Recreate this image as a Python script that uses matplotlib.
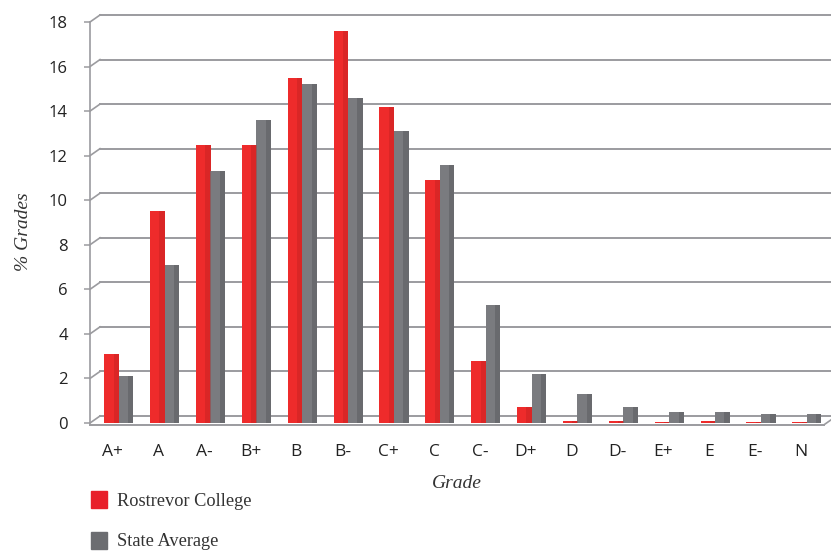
import matplotlib
matplotlib.use("Agg")
import matplotlib.pyplot as plt
import matplotlib.transforms as mtransforms
from matplotlib.patches import Rectangle
import numpy as np

grades = ["A+", "A", "A-", "B+", "B", "B-", "C+", "C", "C-", "D+", "D", "D-", "E+", "E", "E-", "N"]
rostrevor = [3.1, 9.5, 12.5, 12.5, 15.5, 17.6, 14.2, 10.9, 2.8, 0.7, 0.1, 0.1, 0.05, 0.1, 0.05, 0.05]
state_avg = [2.1, 7.1, 11.3, 13.6, 15.2, 14.6, 13.1, 11.6, 5.3, 2.2, 1.3, 0.7, 0.5, 0.5, 0.4, 0.4]
yticks = [0, 2, 4, 6, 8, 10, 12, 14, 16, 18]
series_names = ["Rostrevor College", "State Average"]

W, H = 831, 552
fig = plt.figure(figsize=(W / 100, H / 100), dpi=100)
ax = fig.add_axes([90 / W, 129 / H, 734 / W, 401 / H])

x = np.arange(len(grades))
bw = 0.32
red, red_dark = "#EE2B2B", "#B51F1F"
gray, gray_dark = "#7A7B7F", "#55565A"

ax.bar(x - 0.03, rostrevor, width=bw, color=red, zorder=3, linewidth=0)
ax.bar(x - 0.03 + bw * 0.32, rostrevor, width=bw * 0.36, color=red_dark, zorder=3.1, linewidth=0, alpha=0.35)
ax.bar(x + 0.285, state_avg, width=bw, color=gray, zorder=3, linewidth=0)
ax.bar(x + 0.285 + bw * 0.32, state_avg, width=bw * 0.36, color=gray_dark, zorder=3.1, linewidth=0, alpha=0.45)

ax.set_xlim(-0.5, len(grades) - 0.5)
ax.set_ylim(0, 18)

# back-wall gridlines (3D-like offset)
dx_px, dy_px = 10, 7
offset = mtransforms.ScaledTranslation(dx_px / 100, dy_px / 100, fig.dpi_scale_trans)
ytr = ax.get_yaxis_transform() + offset
dx_ax = dx_px / 734
dy_data = dy_px / 401 * 18
gcol = "#9B9B9F"
for v in yticks:
    ax.plot([0, 1.02], [v, v], transform=ytr, color=gcol, lw=1.4, zorder=1, clip_on=False)
    ax.plot([0, dx_ax], [v, v + dy_data], transform=ax.get_yaxis_transform(), color=gcol, lw=1.2, zorder=1, clip_on=False)
# front floor line and right diagonal
ax.plot([0, 1], [-0.08, -0.08], transform=ax.get_yaxis_transform(), color=gcol, lw=1.4, zorder=2, clip_on=False)
ax.plot([1, 1 + dx_ax], [-0.08, -0.08 + dy_data], transform=ax.get_yaxis_transform(), color=gcol, lw=1.2, zorder=2, clip_on=False)

for s in ["top", "right", "bottom"]:
    ax.spines[s].set_visible(False)
ax.spines["left"].set_color(gcol)
ax.spines["left"].set_linewidth(1.2)

ax.set_yticks(yticks)
ax.set_xticks(x)
ax.set_xticklabels(grades)
ax.tick_params(axis="y", length=4, width=1.1, color=gcol, pad=12, labelsize=12, labelcolor="#222222")
ax.tick_params(axis="x", length=0, pad=15, labelsize=12.5, labelcolor="#222222")
for lab in ax.get_xticklabels() + ax.get_yticklabels():
    lab.set_family("Open Sans")

fig.text(23 / W, 1 - 232 / H, "% Grades", rotation=90, ha="center", va="center",
         fontsize=14, style="italic", family="Liberation Serif", color="#333333")
fig.text(457 / W, 1 - 483 / H, "Grade", ha="center", va="center",
         fontsize=14, style="italic", family="Liberation Serif", color="#333333")

# legend
for i, (name, col) in enumerate(zip(series_names, ["#E81F2A", "#6C6D71"])):
    yc = 500 + i * 41
    fig.patches.append(Rectangle((91 / W, 1 - (yc + 8) / H), 16 / W, 17 / H,
                                 transform=fig.transFigure, color=col, figure=fig))
    fig.text(117 / W, 1 - (yc + 1) / H, name, ha="left", va="center", fontsize=13.2,
             family="Liberation Serif", color="#333333")

fig.savefig("out.png", dpi=100)
